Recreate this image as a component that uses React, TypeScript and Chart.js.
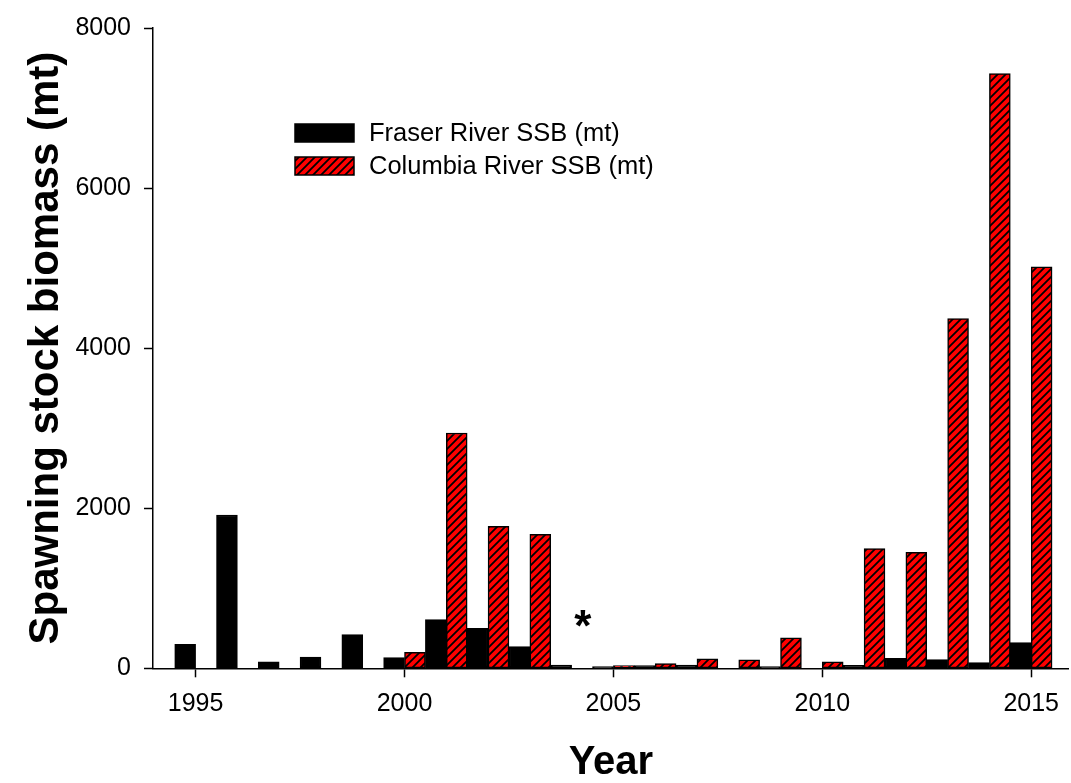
import React, { useEffect, useRef } from "react";
import { Chart, registerables } from "chart.js";

Chart.register(...registerables);

// ---- data ----
const YEARS = [1995, 1996, 1997, 1998, 1999, 2000, 2001, 2002, 2003, 2004, 2005, 2006, 2007, 2008, 2009, 2010, 2011, 2012, 2013, 2014, 2015];
const FRASER_SSB: (number | null)[] = [300, 1915, 80, 140, 420, 135, 610, 500, 270, 40, 20, 35, 40, null, 20, null, 37, 125, 110, 70, 320];
const COLUMBIA_SSB: (number | null)[] = [null, null, null, null, null, 200, 2940, 1775, 1675, null, 35, 60, 118, 105, 380, 80, 1495, 1450, 4370, 7430, 5015];
const X_TICKS = [1995, 2000, 2005, 2010, 2015];
const Y_TICKS = [0, 2000, 4000, 6000, 8000];
const SERIES_LABELS = ["Fraser River SSB (mt)", "Columbia River SSB (mt)"];
const X_TITLE = "Year";
const Y_TITLE = "Spawning stock biomass (mt)";
// missing-data marker (year, value)
const MISSING_MARK = { year: 2004.27, value: 620, text: "*" };

const FONT = "'Liberation Sans', Arial, Helvetica, sans-serif";
const W = 1071;
const H = 783;

function makeHatch(): CanvasPattern | string {
  const s = 8;
  const c = document.createElement("canvas");
  c.width = s;
  c.height = s;
  const g = c.getContext("2d");
  if (!g) return "#ff0000";
  g.fillStyle = "#ff0000";
  g.fillRect(0, 0, s, s);
  g.strokeStyle = "#000000";
  g.lineWidth = 1.8;
  g.beginPath();
  g.moveTo(-1, s + 1);
  g.lineTo(s + 1, -1);
  g.moveTo(-2, 2);
  g.lineTo(2, -2);
  g.moveTo(s - 2, s + 2);
  g.lineTo(s + 2, s - 2);
  g.stroke();
  const p = g.createPattern(c, "repeat");
  return p || "#ff0000";
}

const legendPlugin = {
  id: "insideLegend",
  afterDraw(chart: any) {
    const ctx = chart.ctx;
    const x = 295, y0 = 124, rowH = 33, boxW = 59, boxH = 18, gap = 15;
    ctx.save();
    chart.data.datasets.forEach((ds: any, i: number) => {
      const y = y0 + i * rowH;
      ctx.fillStyle = ds.backgroundColor;
      ctx.fillRect(x, y, boxW, boxH);
      ctx.strokeStyle = "#000";
      ctx.lineWidth = 1.5;
      ctx.strokeRect(x, y, boxW, boxH);
      ctx.fillStyle = "#000";
      ctx.font = `25.5px ${FONT}`;
      ctx.textBaseline = "middle";
      ctx.textAlign = "left";
      ctx.fillText(ds.label, x + boxW + gap, y + boxH / 2 + 1);
    });
    ctx.restore();
  },
};

const markPlugin = {
  id: "missingMark",
  afterDatasetsDraw(chart: any) {
    const ctx = chart.ctx;
    const px = chart.scales.x.getPixelForValue(MISSING_MARK.year);
    const py = chart.scales.y.getPixelForValue(MISSING_MARK.value);
    ctx.save();
    ctx.font = `bold 44px ${FONT}`;
    ctx.fillStyle = "#000";
    ctx.textAlign = "center";
    ctx.textBaseline = "alphabetic";
    const m = ctx.measureText(MISSING_MARK.text);
    const a = m.actualBoundingBoxAscent;
    const d = m.actualBoundingBoxDescent;
    ctx.fillText(MISSING_MARK.text, px, py + (a - d) / 2);
    ctx.restore();
  },
};

export default function App() {
  const ref = useRef<HTMLCanvasElement | null>(null);
  useEffect(() => {
    const canvas = ref.current;
    if (!canvas) return;
    const hatch = makeHatch();
    const tickFont = { family: FONT, size: 25 };
    const xTitleFont = { family: FONT, size: 40, weight: "bold" as const, lineHeight: 1 };
    const yTitleFont = { family: FONT, size: 42, weight: "bold" as const, lineHeight: 1 };
    const chart = new Chart(canvas, {
      type: "bar",
      data: {
        datasets: [
          {
            label: SERIES_LABELS[0],
            data: YEARS.map((x, i) => ({ x, y: FRASER_SSB[i] })) as any,
            backgroundColor: "#000000",
            borderColor: "#000000",
            borderWidth: 1.5,
            borderSkipped: false,
          },
          {
            label: SERIES_LABELS[1],
            data: YEARS.map((x, i) => ({ x, y: COLUMBIA_SSB[i] })) as any,
            backgroundColor: hatch as any,
            borderColor: "#000000",
            borderWidth: 1.5,
            borderSkipped: false,
          },
        ],
      },
      options: {
        responsive: false,
        animation: false,
        devicePixelRatio: 1,
        layout: { padding: { top: 22.7, right: 0, bottom: 0, left: 0 } },
        datasets: { bar: { barPercentage: 1, categoryPercentage: 1 } },
        plugins: { legend: { display: false }, tooltip: { enabled: false } },
        scales: {
          x: {
            type: "linear",
            min: 1993.98,
            max: 2015.9,
            offset: false,
            grid: { offset: false, drawOnChartArea: false, drawTicks: true, tickLength: 9, tickColor: "#000", tickWidth: 1.5 },
            border: { display: true, color: "#000", width: 1.5 },
            afterBuildTicks: (s: any) => {
              s.ticks = X_TICKS.map((v) => ({ value: v }));
            },
            afterFit: (s: any) => {
              s.height = 114.7;
            },
            ticks: { callback: (v: any) => String(v), color: "#000", font: tickFont, padding: 12, maxRotation: 0, autoSkip: false },
            title: { display: true, text: X_TITLE, color: "#000", font: xTitleFont, padding: { top: 0, bottom: 0 } },
          },
          y: {
            type: "linear",
            min: 0,
            max: 8000,
            grid: { drawOnChartArea: false, drawTicks: true, tickLength: 9, tickColor: "#000", tickWidth: 1.5 },
            border: { display: true, color: "#000", width: 1.5 },
            afterBuildTicks: (s: any) => {
              s.ticks = Y_TICKS.map((v) => ({ value: v }));
            },
            afterFit: (s: any) => {
              s.width = 153;
            },
            ticks: { callback: (v: any) => String(v), color: "#000", font: tickFont, padding: 13 },
            title: { display: true, text: Y_TITLE, color: "#000", font: yTitleFont, padding: { top: 25, bottom: 0 } },
          },
        },
      },
      plugins: [legendPlugin, markPlugin],
    });
    return () => chart.destroy();
  }, []);
  return (
    <div style={{ position: "absolute", left: 0, top: 0, width: W, height: H, background: "#fff" }}>
      <canvas ref={ref} width={W} height={H} style={{ display: "block", width: W, height: H }} />
    </div>
  );
}
